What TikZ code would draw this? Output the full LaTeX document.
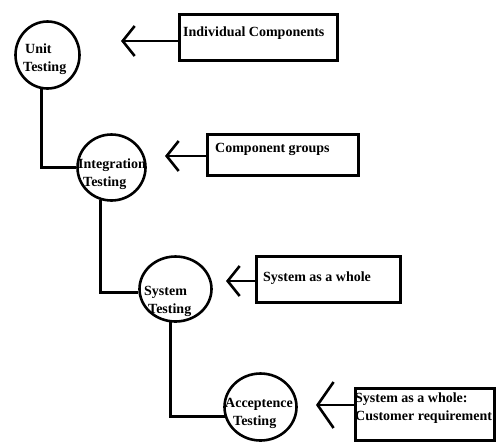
\documentclass[tikz,border=0pt]{standalone}
\usepackage{fontspec}
\setmainfont{Liberation Serif}
\usetikzlibrary{arrows.meta,shapes.geometric}

\tikzset{
  stage/.style={ellipse, draw, line width=2.6pt, inner sep=0pt},
  box/.style={rectangle, draw, line width=2.8pt, inner sep=0pt},
  lbl/.style={font=\fontsize{14}{18}\selectfont\bfseries, align=left, inner sep=0pt, anchor=base west},
  conn/.style={line width=2.8pt},
  arr/.style={line width=2.6pt, -{Straight Barb[length=12pt,width=30pt]}}
}

\begin{document}
\begin{tikzpicture}[x=1pt,y=-1pt]
\useasboundingbox (0,0) rectangle (497,442);
% testing levels
\node[stage, minimum width=64pt, minimum height=67pt] (unit) at (47.5,55){};
\node[stage, minimum width=68pt, minimum height=66pt] (integ) at (111.5,167.5){};
\node[stage, minimum width=72pt, minimum height=65pt] (sys) at (175.5,289){};
\node[stage, minimum width=72pt, minimum height=67pt] (acc) at (260.5,407){};
% two-line labels sit on their last baseline
\node[lbl] (unit-t) at (25,71){Unit\\\hspace*{-2pt}Testing};
\node[lbl] (integ-t) at (78,186){Integration\\\hspace*{5pt}Testing};
\node[lbl] (sys-t) at (144,313){System\\\hspace*{4pt}Testing};
\node[lbl] (acc-t) at (225,425){Acceptence\\\hspace*{8pt}Testing};
% what is tested
\node[box, minimum width=158pt, minimum height=46pt] (ind) at (258.5,37.5){};
\node[box, minimum width=151pt, minimum height=41pt] (grp) at (283,155){};
\node[box, minimum width=144pt, minimum height=46pt] (whole) at (328.5,279.5){};
\node[box, minimum width=139pt, minimum height=52pt] (cust) at (425,414.5){};
\node[lbl] (ind-t) at (183,36){Individual Components};
\node[lbl] (grp-t) at (215,152){Component groups};
\node[lbl] (whole-t) at (263,281){System as a whole};
\node[lbl] (cust-t) at (355,420){System as a whole:\\Customer requirement};
% arrow tips
\coordinate (t1) at (121,41);
\coordinate (t2) at (165,156);
\coordinate (t3) at (226,281);
\coordinate (t4) at (316,405);
\foreach \from/\to in
{unit.-100/integ.west,integ.-108/sys.185,sys.-99/acc.195}
\draw[conn] (\from) |- (\to);
\foreach \b/\t in {ind/t1,grp/t2,whole/t3}
\draw[arr] (\t -| \b.west) -- (\t);
\draw[arr, -{Straight Barb[length=16pt,width=46pt]}] (t4 -| cust.west) -- (t4);
\end{tikzpicture}
\end{document}
